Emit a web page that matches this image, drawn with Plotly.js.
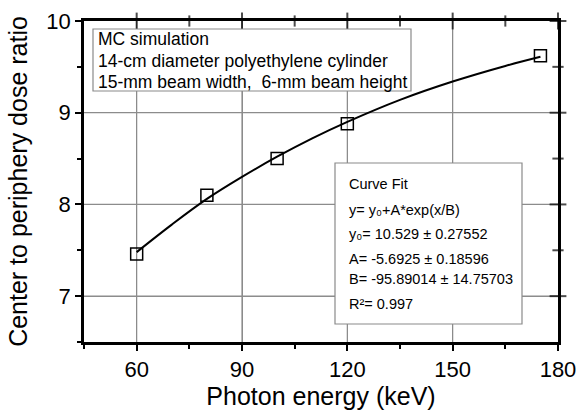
<!DOCTYPE html>
<html>
<head>
<meta charset="utf-8">
<script src="https://cdn.plot.ly/plotly-3.0.1.min.js"></script>
<style>html,body{margin:0;padding:0;background:#fff}#chart{width:579px;height:413px}</style>
</head>
<body>
<div id="chart"></div>
<script>
// Data
var energy = [60, 80, 100, 120, 175];
var doseRatio = [7.46, 8.10, 8.50, 8.88, 9.62];
// Fitted curve as drawn
var fitX = [60, 70, 80, 90, 100, 110, 120, 135, 150, 165, 175];
var fitY = [7.48, 7.78, 8.06, 8.30, 8.52, 8.72, 8.90, 9.14, 9.34, 9.51, 9.61];

var xRange = [45, 180], yRange = [6.5, 10];
var xTickStep = 30, xMinorStep = 15;
var yTickStep = 1, yMinorStep = 0.5;
var xMajor = [60, 90, 120, 150, 180], xMinor = [75, 105, 135, 165];
var yMajor = [7, 8, 9, 10], yMinor = [7.5, 8.5, 9.5];
var xGridVals = [60, 90, 120, 150];
var yGridVals = [7, 8, 9];

var infoLines = ['MC simulation', '14-cm diameter polyethylene cylinder', '15-mm beam width,  6-mm beam height'];
var fitLines = ['Curve Fit', 'y= y\u2080+A*exp(x/B)', 'y\u2080= 10.529 \u00b1 0.27552',
  'A= -5.6925 \u00b1 0.18596', 'B= -95.89014 \u00b1 14.75703', 'R\u00b2= 0.997'];

var FONT = 'Arial, Liberation Sans, DejaVu Sans, sans-serif';

// grid lines built from the tick values and axis ranges
var gx = [], gy = [];
xGridVals.forEach(function (v) { gx.push(v, v, null); gy.push(yRange[0], yRange[1], null); });
yGridVals.forEach(function (v) { gx.push(xRange[0], xRange[1], null); gy.push(v, v, null); });

// mirrored ticks on the top and right frame
var topX = xMajor.concat(xMinor), topY = topX.map(function () { return yRange[1]; });
var topS = xMajor.map(function () { return 12; }).concat(xMinor.map(function () { return 8; }));
var rightY = yMajor.concat(yMinor), rightX = rightY.map(function () { return xRange[1]; });
var rightS = yMajor.map(function () { return 12; }).concat(yMinor.map(function () { return 8; }));

var traces = [
  {x: gx, y: gy, mode: 'lines', line: {color: '#8c8c8c', width: 1.2}, hoverinfo: 'skip', connectgaps: false},
  {x: fitX, y: fitY, mode: 'lines', line: {color: '#000', width: 2, shape: 'spline'}, hoverinfo: 'skip'},
  {x: energy, y: doseRatio, mode: 'markers',
   marker: {symbol: 'square-open', size: 12, color: '#000', line: {width: 1.5, color: '#111'}}},
  {x: topX, y: topY, mode: 'markers', cliponaxis: false, hoverinfo: 'skip',
   marker: {symbol: 'line-ns', size: topS, color: '#000', line: {width: 2, color: '#000'}}},
  {x: rightX, y: rightY, mode: 'markers', cliponaxis: false, hoverinfo: 'skip',
   marker: {symbol: 'line-ew', size: rightS, color: '#000', line: {width: 2, color: '#000'}}}
];

var W = 579, H = 413, mL = 84, mR = 21, mT = 21, mB = 71;
var pw = W - mL - mR, ph = H - mT - mB;
function px(x) { return (x - mL) / pw; }
function py(y) { return 1 - (y - mT) / ph; }

var annotations = [];
var infoY = [39, 61, 82];
infoLines.forEach(function (t, i) {
  annotations.push({xref: 'paper', yref: 'paper', x: px(96), y: py(infoY[i]), xanchor: 'left', yanchor: 'middle',
    text: t, showarrow: false, font: {family: FONT, size: 17.5, color: '#000'}});
});
var fitYpos = [184, 210, 234, 259, 279, 304];
fitLines.forEach(function (t, i) {
  annotations.push({xref: 'paper', yref: 'paper', x: px(347), y: py(fitYpos[i]), xanchor: 'left', yanchor: 'middle',
    text: t, showarrow: false, font: {family: FONT, size: 14.5, color: '#000'}});
});

var shapes = [
  {type: 'rect', xref: 'paper', yref: 'paper', x0: px(93), x1: px(411), y0: py(29), y1: py(91),
   line: {color: '#8a8a8a', width: 1.2}, fillcolor: '#fff', layer: 'above'},
  {type: 'rect', xref: 'paper', yref: 'paper', x0: px(335), x1: px(522), y0: py(163), y1: py(324),
   line: {color: '#8a8a8a', width: 1.2}, fillcolor: '#fff', layer: 'above'}
];

function minorOf(step) {
  return {tickmode: 'linear', tick0: 0, dtick: step, ticks: 'outside', ticklen: 4, tickwidth: 1.5, tickcolor: '#000', showgrid: false};
}

var layout = {
  width: W, height: H,
  margin: {l: mL, r: mR, t: mT, b: mB},
  showlegend: false,
  font: {family: FONT, color: '#000'},
  xaxis: {
    range: xRange, tickmode: 'linear', tick0: 0, dtick: xTickStep,
    showgrid: true, gridcolor: '#8c8c8c', zeroline: false,
    showline: true, linecolor: '#000', linewidth: 2.5, mirror: true,
    ticks: 'outside', ticklen: 6, tickwidth: 2, tickcolor: '#000',
    minor: minorOf(xMinorStep),
    tickfont: {family: FONT, size: 22, color: '#000'},
    title: {text: 'Photon energy (keV)', font: {family: FONT, size: 25, color: '#000'}, standoff: 3}
  },
  yaxis: {
    range: yRange, tickmode: 'linear', tick0: 0, dtick: yTickStep,
    showgrid: true, gridcolor: '#8c8c8c', zeroline: false,
    showline: true, linecolor: '#000', linewidth: 2.5, mirror: true,
    ticks: 'outside', ticklen: 6, tickwidth: 2, tickcolor: '#000',
    minor: minorOf(yMinorStep),
    tickfont: {family: FONT, size: 22, color: '#000'},
    title: {text: 'Center to periphery dose ratio', font: {family: FONT, size: 25, color: '#000'}, standoff: 12}
  },
  annotations: annotations,
  shapes: shapes
};

Plotly.newPlot('chart', traces, layout, {displayModeBar: false});
</script>
</body>
</html>
